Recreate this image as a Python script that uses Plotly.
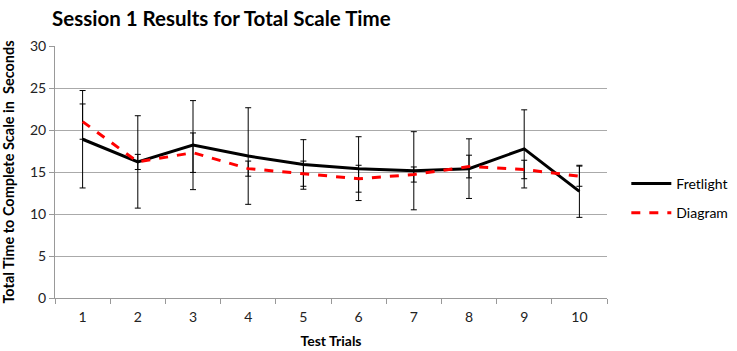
import plotly.graph_objects as go

trials = [1, 2, 3, 4, 5, 6, 7, 8, 9, 10]
fretlight = [18.9, 16.2, 18.2, 16.9, 15.9, 15.4, 15.15, 15.4, 17.75, 12.7]
fretlight_err = [5.8, 5.5, 5.3, 5.75, 2.95, 3.8, 4.65, 3.55, 4.65, 3.1]
diagram = [21.0, 16.2, 17.3, 15.4, 14.8, 14.2, 14.7, 15.65, 15.3, 14.5]
diagram_err = [2.1, 0.9, 2.35, 0.9, 1.5, 1.6, 0.9, 1.35, 1.1, 1.2]

FONT = "Lato"

fig = go.Figure()
fig.add_trace(go.Scatter(
    x=trials, y=fretlight, name="Fretlight", mode="lines", legendgroup="f",
    line=dict(color="black", width=3),
    error_y=dict(type="data", array=fretlight_err, color="black", thickness=1, width=3),
))
fig.add_trace(go.Scatter(
    x=trials, y=diagram, name="Diagram", mode="lines", legendgroup="d",
    line=dict(color="#ff0000", width=3, dash="dash"),
    error_y=dict(type="data", array=diagram_err, color="black", thickness=1, width=3),
))

fig.update_layout(
    width=737, height=351,
    margin=dict(l=55, r=130, t=46, b=53, autoexpand=False),
    paper_bgcolor="white", plot_bgcolor="white",
    font=dict(family=FONT, color="#222222", size=14),
    title=dict(text="<b>Session 1 Results for Total Scale Time</b>",
               x=52/737, xanchor="left", xref="container",
               y=1-19/351, yanchor="middle", yref="container",
               automargin=False,
               font=dict(family=FONT, size=20.5, color="black")),
    showlegend=True,
    legend=dict(x=1.035, xanchor="left", y=0.395, yanchor="middle",
                traceorder="grouped",
                font=dict(family=FONT, size=14, color="black"),
                tracegroupgap=8, itemwidth=40),
    xaxis=dict(range=[0.5, 10.5], tickmode="array", tickvals=trials,
               ticktext=[str(t) for t in trials], ticks="", automargin=False,
               showgrid=False, showline=True, linecolor="#999999", linewidth=1,
               zeroline=False, ticklabelstandoff=6,
               minor=dict(tickmode="linear", tick0=0.5, dtick=1, ticks="outside",
                          ticklen=5, tickcolor="#999999", showgrid=False),
               title=dict(text="<b>Test Trials</b>", standoff=12,
                          font=dict(family=FONT, size=14, color="black"))),
    yaxis=dict(range=[0, 30], dtick=5, ticks="outside", ticklen=5, automargin=False,
               tickcolor="#999999", showgrid=True, gridcolor="#aaaaaa",
               showline=True, linecolor="#999999", zeroline=False,
               title=dict(text="<b>Total Time to Complete Scale in&nbsp; Seconds</b>",
                          standoff=12,
                          font=dict(family=FONT, size=14.5, color="black"))),
)

fig.write_html("out.html", config={"displayModeBar": False},
               post_script="document.body.style.margin='0';document.body.style.overflow='hidden';")
